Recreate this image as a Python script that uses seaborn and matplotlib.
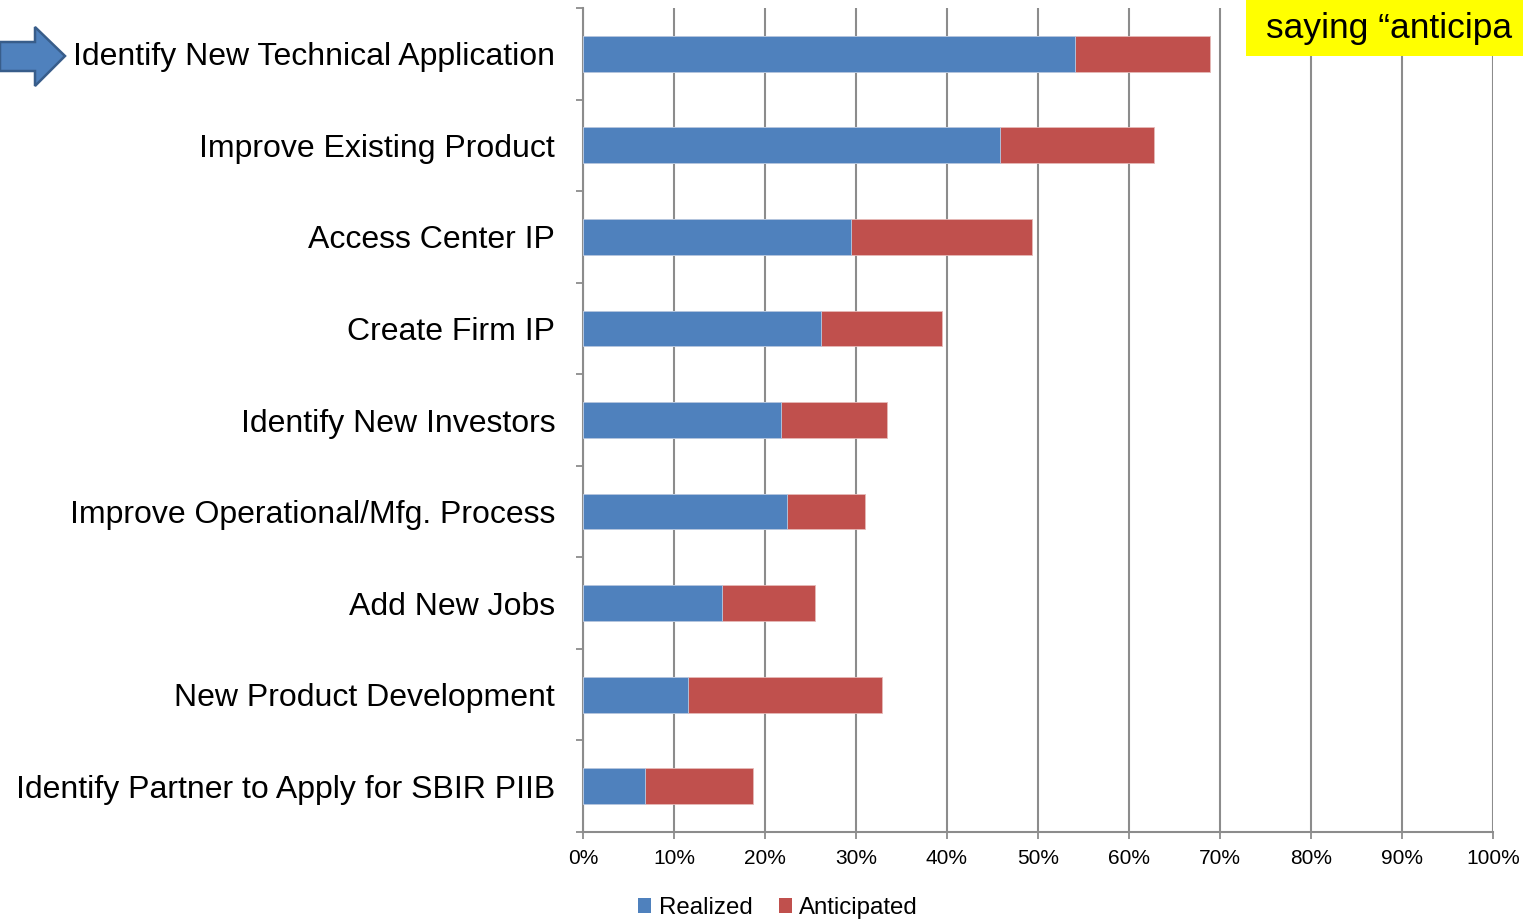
import matplotlib
matplotlib.use("Agg")
import matplotlib.pyplot as plt
import seaborn as sns
import pandas as pd
from matplotlib.patches import Rectangle, Polygon, Patch
from matplotlib.ticker import PercentFormatter, FixedLocator

categories = [
    "Identify New Technical Application",
    "Improve Existing Product",
    "Access Center IP",
    "Create Firm IP",
    "Identify New Investors",
    "Improve Operational/Mfg. Process",
    "Add New Jobs",
    "New Product Development",
    "Identify Partner to Apply for SBIR PIIB",
]
realized = [54.1, 45.8, 29.5, 26.2, 21.8, 22.4, 15.3, 11.5, 6.8]
anticipated = [14.8, 16.9, 19.8, 13.2, 11.6, 8.6, 10.2, 21.4, 11.9]
series_names = ["Realized", "Anticipated"]
x_ticks = [0, 10, 20, 30, 40, 50, 60, 70, 80, 90, 100]
callout_text = "saying \u201canticipa"

BLUE = "#4F81BD"
RED = "#C0504D"
GRID = "#8C8C8C"

sns.set_theme(style="white")
plt.rcParams["font.family"] = ["Liberation Sans", "DejaVu Sans"]
plt.rcParams["text.color"] = "black"

df = pd.DataFrame({"category": categories, "realized": realized, "anticipated": anticipated})
df["total"] = df["realized"] + df["anticipated"]

W, H = 1523, 919
fig = plt.figure(figsize=(W / 100, H / 100), dpi=100)
ax = fig.add_axes([583 / W, 1 - 832 / H, (1493 - 583) / W, (832 - 8) / H])

ax.set_axisbelow(True)
ax.xaxis.grid(True, color=GRID, linewidth=1.5)
ax.yaxis.grid(False)

sns.barplot(data=df, x="total", y="category", color=RED, orient="h", width=0.39,
            ax=ax, saturation=1, edgecolor="#E6B9B8", linewidth=0.6, zorder=3)
sns.barplot(data=df, x="realized", y="category", color=BLUE, orient="h", width=0.39,
            ax=ax, saturation=1, edgecolor="#B9CDE5", linewidth=0.6, zorder=4)

ax.set_xlim(0, 100)
ax.set_ylim(len(categories) - 0.5, -0.5)
ax.xaxis.set_major_locator(FixedLocator(x_ticks))
ax.xaxis.set_major_formatter(PercentFormatter(xmax=100, decimals=0))
ax.set_xlabel("")
ax.set_ylabel("")

ax.yaxis.set_minor_locator(FixedLocator([i - 0.5 for i in range(len(categories) + 1)]))
ax.tick_params(axis="y", which="major", length=0, pad=20, labelsize=23, labelcolor="black")
ax.tick_params(axis="y", which="minor", length=5, width=1.3, color=GRID, left=True)
ax.tick_params(axis="x", which="major", length=5, width=1.3, color=GRID, bottom=True,
               pad=7, labelsize=15, labelcolor="black")

for s in ["top", "right"]:
    ax.spines[s].set_visible(False)
for s in ["left", "bottom"]:
    ax.spines[s].set_color(GRID)
    ax.spines[s].set_linewidth(1.5)

# Legend
handles = [Patch(facecolor=BLUE, edgecolor="none"), Patch(facecolor=RED, edgecolor="none")]
fig.legend(handles, series_names, loc="center", bbox_to_anchor=(778 / W, 1 - 908 / H),
           ncol=2, frameon=False, fontsize=17.3, handlelength=0.55, handleheight=0.55,
           handletextpad=0.3, columnspacing=1.1, labelcolor="black")

# Yellow callout (runs to the figure edge)
fig.patches.append(Rectangle((1246 / W, 1 - 56 / H), (W - 1246) / W, 60 / H,
                             transform=fig.transFigure, facecolor="#FFFF00",
                             edgecolor="none", zorder=5))
fig.text(1266 / W, 1 - 38 / H, callout_text, fontsize=25.5,
         va="baseline", ha="left", color="black", zorder=6)

# Block arrow pointing at the first category
pts_px = [(0, 42), (35, 42), (35, 27), (65, 56), (35, 86), (35, 71), (0, 71)]
pts = [(x / W, 1 - y / H) for x, y in pts_px]
fig.patches.append(Polygon(pts, closed=True, transform=fig.transFigure,
                           facecolor=BLUE, edgecolor="#385D8A", linewidth=1.8, zorder=5))

fig.savefig("out.png", dpi=100)
